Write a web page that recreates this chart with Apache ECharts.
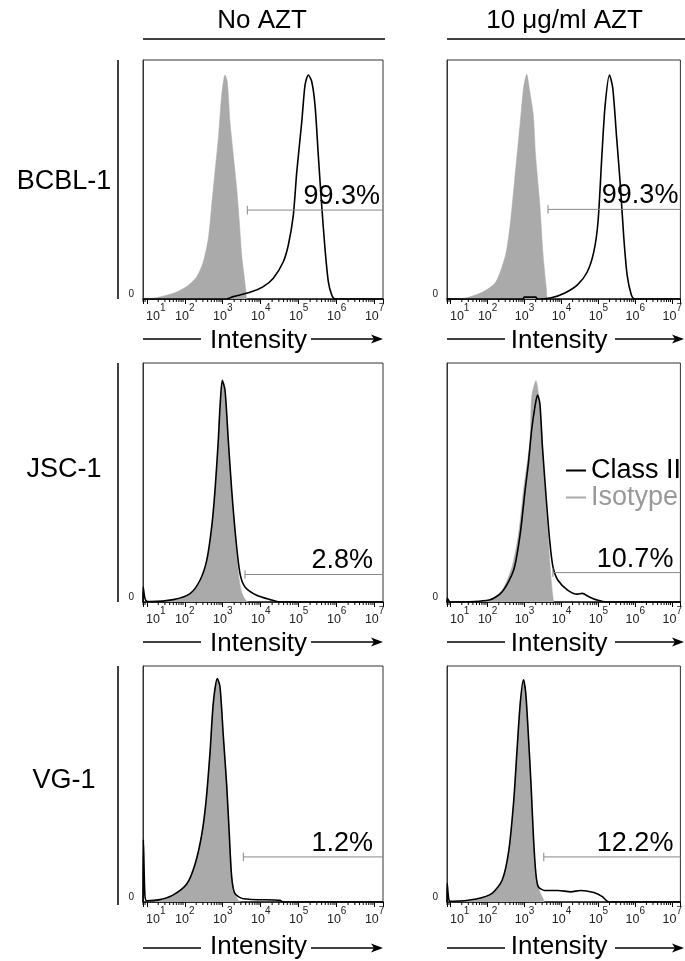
<!DOCTYPE html>
<html><head><meta charset="utf-8">
<script src="https://cdn.jsdelivr.net/npm/echarts@6/dist/echarts.min.js"></script>
<style>html,body{margin:0;padding:0;background:#fff}#c{width:685px;height:961px}</style>
</head><body><div id="c"></div>
<script>
const FONT = '"Liberation Sans", Arial, Helvetica, sans-serif';
const columnTitles = ['No AZT', '10 μg/ml AZT'];
const rowTitles = ['BCBL-1', 'JSC-1', 'VG-1'];
const axisName = 'Intensity';
const legendNames = ['Class II', 'Isotype'];
const decadeExponents = [1, 2, 3, 4, 5, 6, 7];
const minorMultipliers = [2, 3, 4, 5, 6, 7, 8, 9];
const xMin = 0.9, xMax = 7.22; // log10 intensity range of the axis
const percentLabels = ['99.3%', '99.3%', '2.8%', '10.7%', '1.2%', '12.2%'];
const gateStart = [3.647, 3.635, 3.586, 3.768, 3.542, 3.521];
const gateLevel = [37.2, 37.5, 11.5, 12.3, 19.1, 19.1];

// x = log10(intensity), y = % of max count
const bcblNoAztIsotype = [[0.9,0.4],[1.084,0.3],[1.698,2.4],[2.051,5.2],[2.314,9.3],[2.488,15.6],[2.62,25.4],[2.709,39.3],[2.796,53.3],[2.883,67.2],[2.973,85.4],[3.06,93.7],[3.12,90.9],[3.191,74.2],[3.278,60.3],[3.368,46.3],[3.436,32.4],[3.499,18.4],[3.56,10],[3.613,3.1],[3.647,0],[7.22,0]];
const bcblNoAztClassII = [[0.9,0],[3.1,0],[3.278,1.0],[3.718,2.8],[4.068,5.2],[4.332,8.7],[4.595,15.6],[4.727,22.6],[4.858,35],[4.948,53],[5.08,74],[5.167,89.5],[5.253,93.7],[5.343,91],[5.43,81],[5.517,60],[5.606,39],[5.693,21],[5.78,7.3],[5.87,1.7],[5.957,0],[7.22,0]];
const bcblAztIsotype = [[0.9,0],[0.98,0],[1.423,0.5],[1.864,2.9],[2.22,7.1],[2.485,18.4],[2.618,32.2],[2.751,53.1],[2.884,74.1],[2.971,88.2],[3.059,94],[3.13,88],[3.237,77],[3.298,60.3],[3.415,39.3],[3.502,18.4],[3.59,4.5],[3.635,0],[7.22,0]];
const bcblAztClassII = [[0.9,0],[2.95,0],[3.0,0.8],[3.3,0.8],[3.35,0],[3.723,0.5],[4.078,2.4],[4.432,5.9],[4.697,11.3],[4.875,19.7],[4.989,32.2],[5.095,60.3],[5.183,81.2],[5.3,93.7],[5.388,88.3],[5.494,67.4],[5.6,46.4],[5.688,25.5],[5.778,10],[5.892,1.7],[5.98,0],[7.22,0]];
const jscNoAztIsotype = [[0.9,0],[1.0,0],[1.698,0.8],[2.138,3.2],[2.401,8.5],[2.578,16.5],[2.709,30.5],[2.796,46],[2.883,67],[2.928,82],[2.988,92.5],[3.06,88],[3.146,67],[3.236,46],[3.349,24],[3.42,11],[3.5,4],[3.6,0.8],[3.7,0],[7.22,0]];
const jscNoAztClassII = [[0.9,0],[0.905,6.3],[0.95,1.5],[1.0,0.3],[1.084,0.2],[1.698,1.0],[2.138,3.5],[2.401,9.1],[2.578,17.4],[2.709,31.4],[2.796,46.7],[2.883,67.7],[2.928,81.6],[2.988,92.8],[3.06,88.6],[3.146,67.7],[3.236,46.7],[3.349,25.8],[3.455,11.9],[3.586,6.3],[3.894,2.8],[4.245,1.0],[4.508,0],[7.22,0]];
const jscAztIsotype = [[0.9,0],[1.51,0],[2.042,0.8],[2.395,5.0],[2.661,14.8],[2.838,28.7],[2.971,46.9],[3.149,67.8],[3.192,85.9],[3.308,92.6],[3.415,81.6],[3.502,60.7],[3.616,32.9],[3.707,12],[3.768,2.2],[3.813,0],[7.22,0]];
const jscAztClassII = [[0.9,0],[0.91,1.5],[0.96,0.3],[0.98,0],[2.042,0.8],[2.395,4.3],[2.706,13.4],[2.884,28.7],[3.016,46.9],[3.104,58.0],[3.192,72],[3.282,81.7],[3.351,86.6],[3.415,83.1],[3.484,65],[3.59,42.7],[3.68,25.9],[3.768,14.8],[3.9,9.2],[4.166,5.0],[4.432,3.3],[4.564,3.6],[4.742,2.2],[4.963,0.8],[5.228,0],[7.22,0]];
const vgNoAztIsotype = [[0.9,0],[1.0,0],[1.348,0.8],[1.698,2.8],[2.051,7.3],[2.27,15.5],[2.446,28],[2.559,42],[2.665,63],[2.751,84],[2.857,94.5],[2.928,91],[3.015,70.5],[3.104,50],[3.173,29.5],[3.236,12],[3.3,4.5],[3.4,1],[3.5,0],[7.22,0]];
const vgNoAztClassII = [[0.9,0],[0.91,26.4],[0.95,3],[1.0,0.5],[1.348,1.0],[1.698,3.0],[2.051,7.6],[2.27,16],[2.446,28.5],[2.559,42.5],[2.665,63.4],[2.751,84.3],[2.857,94.7],[2.928,91.2],[3.015,70.3],[3.104,49.4],[3.173,28.5],[3.236,10.4],[3.323,3.5],[3.542,1.4],[4.508,0.7],[4.587,0],[7.22,0]];
const vgAztIsotype = [[0.9,0],[1.067,0],[1.689,1.2],[2.129,3.6],[2.395,9],[2.573,21.5],[2.706,42.5],[2.793,63.3],[2.884,84.2],[2.971,94],[3.032,88.4],[3.104,70.3],[3.176,49.4],[3.237,28],[3.3,12],[3.4,5],[3.5,1.5],[3.55,0],[7.22,0]];
const vgAztClassII = [[0.9,0],[0.905,7.9],[0.95,1],[1.0,0.3],[1.067,0.3],[1.689,1.3],[2.129,3.8],[2.395,9.3],[2.573,21.8],[2.706,42.7],[2.793,63.5],[2.884,84.4],[2.971,94.2],[3.032,88.6],[3.104,70.5],[3.176,49.6],[3.237,28.8],[3.298,13.5],[3.369,6.5],[3.547,4.9],[3.9,4.9],[4.254,4.3],[4.519,4.9],[4.875,4.0],[5.095,2.4],[5.228,0.5],[5.316,0],[7.22,0]];

const isotypeCurves = [bcblNoAztIsotype, bcblAztIsotype, jscNoAztIsotype, jscAztIsotype, vgNoAztIsotype, vgAztIsotype];
const classIICurves = [bcblNoAztClassII, bcblAztClassII, jscNoAztClassII, jscAztClassII, vgNoAztClassII, vgAztClassII];

// ---- layout (pixels) ----
const colLeft = [143, 447], colWidth = [240, 237];
const rowTop = [60, 363, 666], rowHeight = 239;
const rowTitleY = [182, 470, 781];
const arrowGap = [40, 40, 43];
const labelInset = [3, 2, 10, 7, 10, 7];

const minorTickData = [];
for (let n = 0; n <= 7; n++) for (const k of minorMultipliers) {
  const v = n + Math.log10(k);
  if (v > xMin && v < xMax) minorTickData.push([v, 0]);
}

const grids = [], xAxes = [], yAxes = [], series = [], graphic = [];
for (let i = 0; i < 6; i++) {
  const r = Math.floor(i / 2), c = i % 2;
  grids.push({left: colLeft[c], top: rowTop[r], width: colWidth[c], height: rowHeight,
    show: true, borderColor: '#333', borderWidth: 1, backgroundColor: 'transparent'});
  xAxes.push({
    type: 'value', gridIndex: i, min: xMin, max: xMax, splitNumber: 6,
    axisLine: {show: true, onZero: false, lineStyle: {color: '#000', width: 1.5}},
    axisTick: {show: true, length: 5, lineStyle: {color: '#000', width: 1}},
    splitLine: {show: false},
    axisLabel: {
      margin: 4, showMinLabel: true, showMaxLabel: true, color: '#222',
      formatter: v => {
        const n = Math.round(v);
        if (Math.abs(v - n) > 1e-6 || decadeExponents.indexOf(n) < 0) return '';
        return (n === 1 ? '{p| }' : '') + '{b|10}{s|' + n + '}';
      },
      rich: {
        b: {fontSize: 12.5, fontFamily: FONT, color: '#222', padding: [7, 0, 0, 0], verticalAlign: 'bottom'},
        s: {fontSize: 10, fontFamily: FONT, color: '#222', verticalAlign: 'top'},
        p: {width: 18, fontSize: 9}
      }
    },
    name: axisName, nameLocation: 'middle', nameGap: arrowGap[r] - 11,
    nameTextStyle: {fontSize: 26, fontFamily: FONT, color: '#000', padding: [0, 9, 0, 0]}
  });
  yAxes.push({
    type: 'value', gridIndex: i, min: 0, max: 100,
    axisLine: {show: true, lineStyle: {color: '#333', width: 1}},
    axisTick: {show: false}, splitLine: {show: false},
    axisLabel: {margin: 9, fontSize: 10, fontFamily: FONT, color: '#222', verticalAlign: 'bottom',
      formatter: v => v === 0 ? '0' : ''}
  });
  series.push({
    name: legendNames[1], type: 'line', xAxisIndex: i, yAxisIndex: i, data: isotypeCurves[i],
    smooth: 0.25, symbol: 'none', silent: true,
    lineStyle: {width: 0.5, color: '#aaaaaa'}, itemStyle: {color: '#aaaaaa'},
    areaStyle: {color: '#aaaaaa', opacity: 1}, z: 2
  });
  series.push({
    name: legendNames[0], type: 'line', xAxisIndex: i, yAxisIndex: i, data: classIICurves[i],
    smooth: 0.25, symbol: 'none', silent: true,
    lineStyle: {width: 1.6, color: '#000'}, itemStyle: {color: '#000'}, z: 3
  });
  // gate marker
  series.push({
    type: 'line', xAxisIndex: i, yAxisIndex: i, symbol: 'none', silent: true, z: 4,
    lineStyle: {width: 1, color: '#888'},
    data: [[gateStart[i], gateLevel[i]], [xMax, gateLevel[i]]]
  });
  series.push({
    type: 'line', xAxisIndex: i, yAxisIndex: i, symbol: 'none', silent: true, z: 4,
    lineStyle: {width: 1, color: '#888'},
    data: [[gateStart[i], gateLevel[i] - 1.8], [gateStart[i], gateLevel[i] + 1.8]]
  });
  series.push({
    type: 'scatter', xAxisIndex: i, yAxisIndex: i, symbolSize: 0, silent: true, z: 6,
    itemStyle: {opacity: 1, color: '#000'},
    data: [[xMax, gateLevel[i]]],
    label: {show: true, formatter: percentLabels[i], position: 'top', align: 'right', verticalAlign: 'bottom',
      distance: 0, offset: [-labelInset[i], 0], fontSize: 27, fontFamily: FONT, color: '#000', opacity: 1}
  });
  // minor (log) ticks
  series.push({
    type: 'custom', xAxisIndex: i, yAxisIndex: i, silent: true, clip: false, data: minorTickData, z: 5,
    renderItem: (params, api) => {
      const p = api.coord([api.value(0), 0]);
      return {type: 'line', shape: {x1: p[0], y1: p[1], x2: p[0], y2: p[1] + 3},
        style: {stroke: '#000', lineWidth: 1}};
    }
  });
  // arrows around axis name
  const gl = colLeft[c], gw = colWidth[c], ay = rowTop[r] + rowHeight + arrowGap[r];
  graphic.push({type: 'line', shape: {x1: gl, y1: ay, x2: gl + 58, y2: ay}, style: {stroke: '#000', lineWidth: 1.5}});
  graphic.push({type: 'line', shape: {x1: gl + 168, y1: ay, x2: gl + gw - 8, y2: ay}, style: {stroke: '#000', lineWidth: 1.5}});
  graphic.push({type: 'polygon', shape: {points: [[gl + gw - 12, ay - 4.5], [gl + gw, ay], [gl + gw - 12, ay + 4.5], [gl + gw - 9, ay]]}, style: {fill: '#000'}});
}

// column titles and underlines
for (let c = 0; c < 2; c++) {
  graphic.push({type: 'text', x: colLeft[c] + colWidth[c] / 2 - 1, y: 21,
    style: {text: columnTitles[c], font: '26px ' + FONT, fill: '#000', align: 'center', verticalAlign: 'middle'}});
  graphic.push({type: 'line', shape: {x1: colLeft[c], y1: 39, x2: colLeft[c] + colWidth[c] + 2, y2: 39},
    style: {stroke: '#000', lineWidth: 1.5}});
}
// row titles and bars
for (let r = 0; r < 3; r++) {
  graphic.push({type: 'text', x: 64, y: rowTitleY[r],
    style: {text: rowTitles[r], font: '27px ' + FONT, fill: '#000', align: 'center', verticalAlign: 'middle'}});
  graphic.push({type: 'line', shape: {x1: 118, y1: rowTop[r], x2: 118, y2: rowTop[r] + rowHeight},
    style: {stroke: '#000', lineWidth: 1.5}});
}

const chart = echarts.init(document.getElementById('c'), null, {renderer: 'canvas'});
chart.setOption({
  animation: false,
  backgroundColor: '#fff',
  textStyle: {fontFamily: FONT},
  grid: grids, xAxis: xAxes, yAxis: yAxes, series: series, graphic: graphic,
  legend: {
    data: [{name: legendNames[0], textStyle: {color: '#000'}}, {name: legendNames[1], textStyle: {color: '#999'}}],
    orient: 'vertical', left: 566, top: 457, padding: 0, itemWidth: 20, itemHeight: 2, itemGap: 0, icon: 'rect',
    selectedMode: false, textStyle: {fontSize: 27, lineHeight: 26, fontFamily: FONT}
  }
});
</script></body></html>
